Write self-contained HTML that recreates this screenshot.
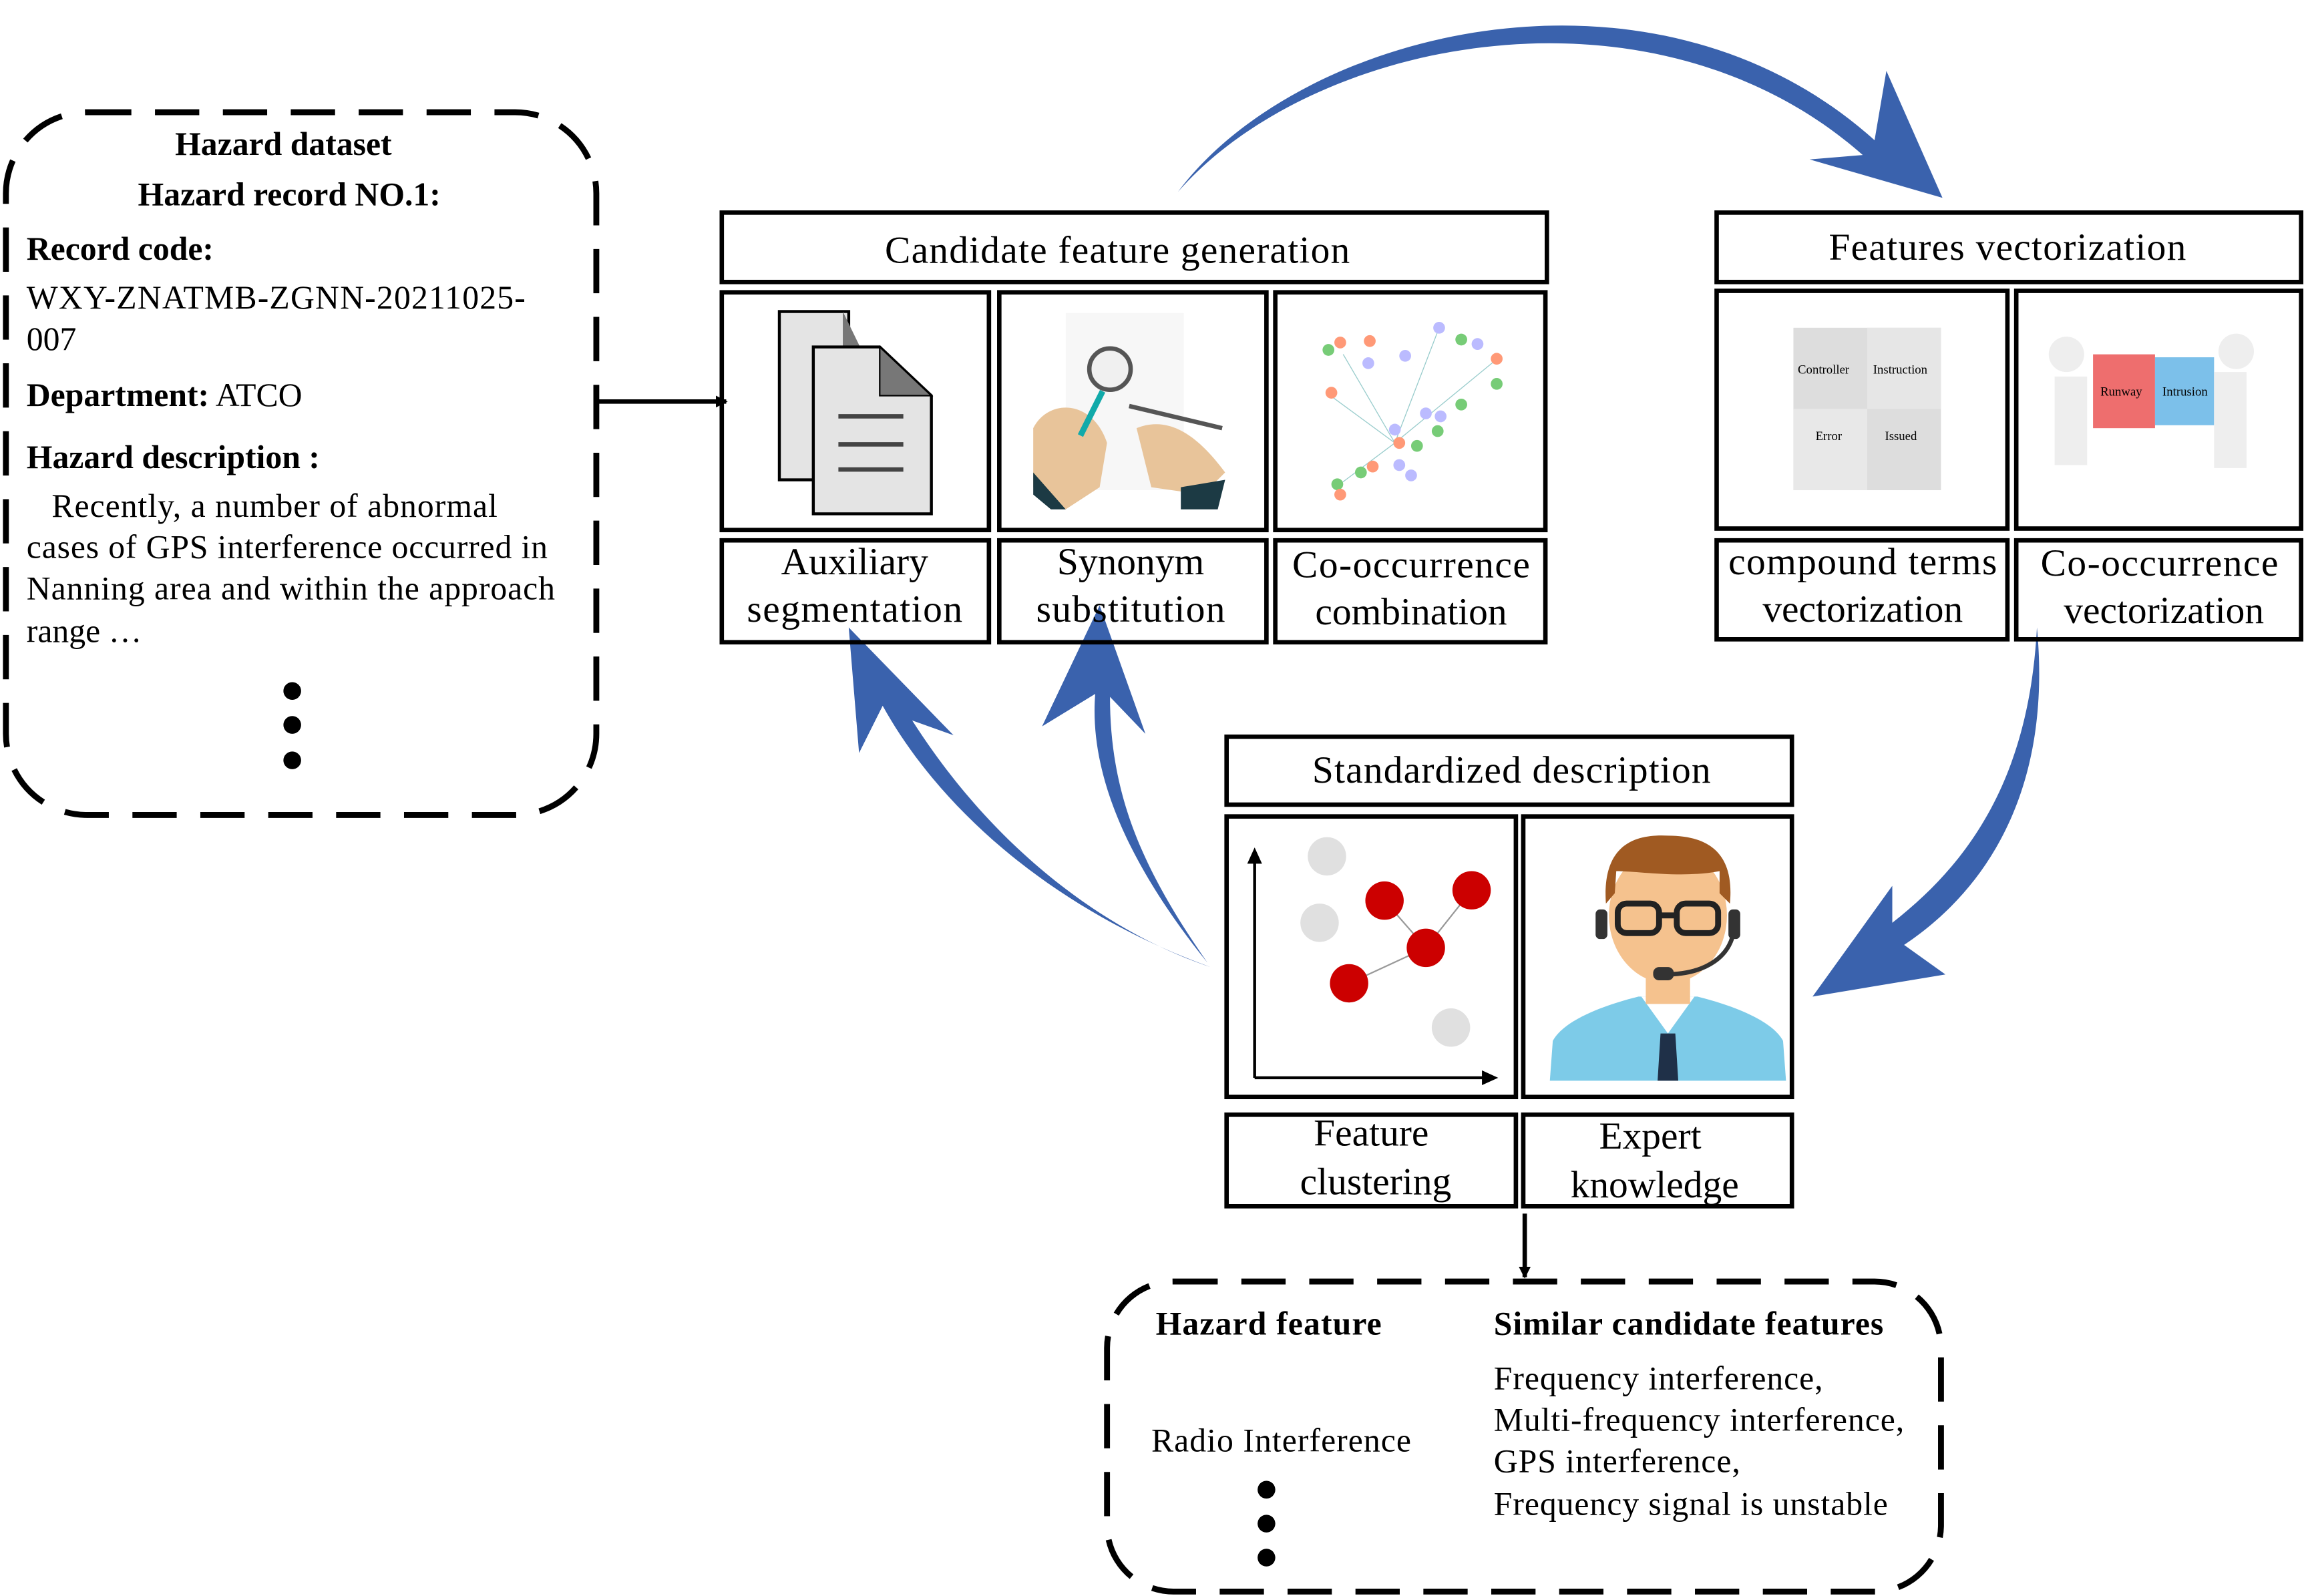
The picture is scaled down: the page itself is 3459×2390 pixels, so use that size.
<!DOCTYPE html>
<html><head><meta charset="utf-8"><style>
html,body{margin:0;padding:0;background:#fff;}
svg{display:block;}
text{font-family:"Liberation Serif",serif;fill:#000;}
.b{font-weight:bold;}
</style></head><body>
<svg width="3459" height="2390" viewBox="0 0 1565 1081" preserveAspectRatio="none" xmlns="http://www.w3.org/2000/svg">
<defs>
<marker id="ah" markerWidth="8" markerHeight="8" refX="7" refY="4" orient="auto" markerUnits="userSpaceOnUse"><path d="M0,0 L8,4 L0,8 z" fill="#000"/></marker>
</defs>
<rect x="4" y="76" width="400" height="476" rx="55" fill="none" stroke="#000" stroke-width="4" stroke-dasharray="30,16"/>
<g font-size="22.5">
<text x="192" y="105" text-anchor="middle" class="b">Hazard dataset</text>
<text x="196" y="139" text-anchor="middle" class="b">Hazard record NO.1:</text>
<text x="18" y="176" class="b">Record code:</text>
<text x="18" y="209" textLength="338">WXY-ZNATMB-ZGNN-20211025-</text>
<text x="18" y="237">007</text>
<text x="18" y="275"><tspan class="b">Department:</tspan>  ATCO</text>
<text x="18" y="317" class="b">Hazard description :</text>
<text x="35" y="350" textLength="302">Recently, a number of abnormal</text>
<text x="18" y="378" textLength="353">cases of GPS interference occurred in</text>
<text x="18" y="406" textLength="358">Nanning area and within the approach</text>
<text x="18" y="435">range …</text>
</g>
<circle cx="198" cy="468" r="6"/><circle cx="198" cy="491" r="6"/><circle cx="198" cy="515" r="6"/>
<line x1="405" y1="272" x2="492" y2="272" stroke="#000" stroke-width="3" marker-end="url(#ah)"/>

<g fill="#3a62ad">
<path d="M798,130 C880,20 1120,-40 1270,95 L1278,48 L1316,134 L1226,108 L1262,105 C1120,-20 890,25 798,130 z"/>
<path d="M1380,425 C1390,530 1350,600 1290,640 L1318,660 L1228,675 L1282,600 L1282,625 C1340,580 1375,520 1380,425 z"/>
<path d="M820,655 C710,615 635,545 598,478 L582,510 L575,425 L646,498 L618,488 C680,585 760,635 820,655 z"/>
<path d="M818,652 C760,580 738,520 742,470 L706,492 L745,410 L776,497 L752,472 C752,540 775,590 818,652 z"/>
</g>

<g fill="none" stroke="#000" stroke-width="3">
<rect x="489" y="144" width="559" height="47"/>
<rect x="489" y="198" width="181" height="161"/>
<rect x="677" y="198" width="181" height="161"/>
<rect x="864" y="198" width="183" height="161"/>
<rect x="489" y="366" width="181" height="69"/>
<rect x="677" y="366" width="181" height="69"/>
<rect x="864" y="366" width="183" height="69"/>
<rect x="1163" y="144" width="396" height="47"/>
<rect x="1163" y="197" width="197" height="161"/>
<rect x="1366" y="197" width="193" height="161"/>
<rect x="1163" y="366" width="197" height="67"/>
<rect x="1366" y="366" width="193" height="67"/>
<rect x="831" y="499" width="383" height="46"/>
<rect x="831" y="553" width="196" height="190"/>
<rect x="1032" y="553" width="182" height="190"/>
<rect x="831" y="755" width="196" height="62"/>
<rect x="1032" y="755" width="182" height="62"/>
</g>
<g font-size="26" text-anchor="middle">
<text x="757" y="178" textLength="315">Candidate feature generation</text>
<text x="1360" y="176" textLength="242">Features vectorization</text>
<text x="1024" y="530" textLength="270">Standardized description</text>
<text x="579" y="389">Auxiliary</text><text x="579" y="421" textLength="146">segmentation</text>
<text x="766" y="389">Synonym</text><text x="766" y="421" textLength="128">substitution</text>
<text x="956" y="391" textLength="161">Co-occurrence</text><text x="956" y="423">combination</text>
<text x="1262" y="389" textLength="182">compound terms</text><text x="1262" y="421">vectorization</text>
<text x="1463" y="390" textLength="161">Co-occurrence</text><text x="1466" y="422">vectorization</text>
<text x="929" y="776">Feature</text><text x="932" y="809">clustering</text>
<text x="1118" y="778">Expert</text><text x="1121" y="811">knowledge</text>
</g>

<rect x="528" y="211" width="47" height="114" fill="#e4e4e4" stroke="#000" stroke-width="2"/>
<path d="M571,211 L590,250 L571,250 z" fill="#777"/>
<path d="M551,235 L596,235 L631,268 L631,348 L551,348 z" fill="#e4e4e4" stroke="#000" stroke-width="2"/>
<path d="M596,235 L631,268 L596,268 z" fill="#777" stroke="#000"/>
<g stroke="#444" stroke-width="3"><line x1="568" y1="282" x2="612" y2="282"/><line x1="568" y1="301" x2="612" y2="301"/><line x1="568" y1="318" x2="612" y2="318"/></g>
<rect x="722" y="212" width="80" height="120" fill="#f7f7f7"/>
<path d="M700,290 C710,270 740,270 750,300 L745,330 L722,345 L700,330 z" fill="#e8c49a"/>
<path d="M770,290 C795,280 815,300 830,320 L815,335 L780,330 z" fill="#e8c49a"/>
<path d="M700,320 L722,345 L712,345 L700,335 z" fill="#1c3a44"/>
<path d="M800,330 L830,325 L825,345 L800,345 z" fill="#1c3a44"/>
<circle cx="752" cy="250" r="14" fill="#f0f0f0" stroke="#555" stroke-width="3"/>
<line x1="747" y1="265" x2="732" y2="295" stroke="#1aa" stroke-width="4"/>
<line x1="765" y1="275" x2="828" y2="290" stroke="#555" stroke-width="3"/>
<g stroke="#9cc" stroke-width="0.6" fill="none"><path d="M975,222 L945,300 L905,330"/><path d="M1012,245 L945,300 L900,267"/><path d="M910,240 L945,300"/></g>
<g>
<circle cx="900" cy="237" r="4" fill="#7c7"/><circle cx="908" cy="232" r="4" fill="#f97"/><circle cx="928" cy="231" r="4" fill="#f97"/>
<circle cx="952" cy="241" r="4" fill="#bbf"/><circle cx="975" cy="222" r="4" fill="#bbf"/><circle cx="990" cy="230" r="4" fill="#7c7"/>
<circle cx="1001" cy="233" r="4" fill="#bbf"/><circle cx="1014" cy="243" r="4" fill="#f97"/><circle cx="1014" cy="260" r="4" fill="#7c7"/>
<circle cx="927" cy="246" r="4" fill="#bbf"/><circle cx="902" cy="266" r="4" fill="#f97"/><circle cx="966" cy="280" r="4" fill="#bbf"/>
<circle cx="976" cy="282" r="4" fill="#bbf"/><circle cx="990" cy="274" r="4" fill="#7c7"/><circle cx="945" cy="291" r="4" fill="#bbf"/>
<circle cx="948" cy="300" r="4" fill="#f97"/><circle cx="974" cy="292" r="4" fill="#7c7"/><circle cx="960" cy="302" r="4" fill="#7c7"/>
<circle cx="930" cy="316" r="4" fill="#f97"/><circle cx="922" cy="320" r="4" fill="#7c7"/><circle cx="948" cy="315" r="4" fill="#bbf"/>
<circle cx="956" cy="322" r="4" fill="#bbf"/><circle cx="906" cy="328" r="4" fill="#7c7"/><circle cx="908" cy="335" r="4" fill="#f97"/>
</g>
<rect x="1215" y="222" width="100" height="110" fill="#ddd"/>
<rect x="1265" y="222" width="50" height="55" fill="#e6e6e6"/><rect x="1215" y="277" width="50" height="55" fill="#e8e8e8"/>
<g font-size="8.5"><text x="1218" y="253">Controller</text><text x="1269" y="253">Instruction</text><text x="1230" y="298">Error</text><text x="1277" y="298">Issued</text></g>
<rect x="1418" y="240" width="42" height="50" fill="#ee6e6e"/><rect x="1460" y="242" width="40" height="46" fill="#7cc0ea"/>
<circle cx="1400" cy="240" r="12" fill="#eee"/><circle cx="1515" cy="238" r="12" fill="#eee"/>
<rect x="1392" y="255" width="22" height="60" fill="#eee"/><rect x="1500" y="252" width="22" height="65" fill="#eee"/>
<g font-size="8.5"><text x="1423" y="268">Runway</text><text x="1465" y="268">Intrusion</text></g>
<g stroke="#000" stroke-width="2"><line x1="850" y1="730" x2="850" y2="580"/><line x1="850" y1="730" x2="1010" y2="730"/></g>
<path d="M845,585 L850,574 L855,585 z"/><path d="M1004,725 L1015,730 L1004,735 z"/>
<g stroke="#999" stroke-width="1"><line x1="938" y1="610" x2="966" y2="642"/><line x1="997" y1="603" x2="966" y2="642"/><line x1="966" y1="642" x2="914" y2="666"/></g>
<circle cx="899" cy="580" r="13" fill="#e0e0e0"/><circle cx="894" cy="625" r="13" fill="#e0e0e0"/><circle cx="983" cy="696" r="13" fill="#e0e0e0"/>
<circle cx="938" cy="610" r="13" fill="#c00"/><circle cx="997" cy="603" r="13" fill="#c00"/><circle cx="966" cy="642" r="13" fill="#c00"/><circle cx="914" cy="666" r="13" fill="#c00"/>
<path d="M1050,732 L1052,705 C1060,690 1090,680 1110,675 L1150,675 C1170,680 1200,690 1208,705 L1210,732 z" fill="#7dcbe8"/>
<path d="M1112,675 L1130,700 L1148,675 z" fill="#fff"/>
<path d="M1125,700 L1135,700 L1137,732 L1123,732 z" fill="#1f3048"/>
<rect x="1115" y="650" width="30" height="30" fill="#f5c28e"/>
<ellipse cx="1130" cy="620" rx="40" ry="46" fill="#f5c28e"/>
<path d="M1088,612 C1085,570 1110,565 1130,566 C1160,566 1175,580 1172,612 L1165,605 L1165,590 C1140,595 1110,590 1095,590 L1094,605 z" fill="#a05a22"/>
<g fill="none" stroke="#222" stroke-width="4"><rect x="1096" y="612" width="28" height="20" rx="6"/><rect x="1136" y="612" width="28" height="20" rx="6"/><line x1="1124" y1="620" x2="1136" y2="620"/></g>
<path d="M1175,625 C1175,648 1155,660 1128,660" fill="none" stroke="#333" stroke-width="3"/>
<rect x="1120" y="655" width="14" height="9" rx="4" fill="#333"/>
<rect x="1081" y="616" width="8" height="20" rx="3" fill="#333"/><rect x="1171" y="616" width="8" height="20" rx="3" fill="#333"/>

<line x1="1033" y1="822" x2="1033" y2="865" stroke="#000" stroke-width="3" marker-end="url(#ah)"/>
<rect x="750" y="868" width="565" height="210" rx="45" fill="none" stroke="#000" stroke-width="4" stroke-dasharray="30,16"/>
<g font-size="22.5">
<text x="783" y="904" class="b" textLength="153">Hazard feature</text>
<text x="1012" y="904" class="b" textLength="264">Similar candidate features</text>
<text x="780" y="983" textLength="176">Radio Interference</text>
<text x="1012" y="941" textLength="223">Frequency interference,</text>
<text x="1012" y="969" textLength="278">Multi-frequency interference,</text>
<text x="1012" y="997" textLength="167">GPS interference,</text>
<text x="1012" y="1026" textLength="267">Frequency signal is unstable</text>
</g>
<circle cx="858" cy="1009" r="6"/><circle cx="858" cy="1032" r="6"/><circle cx="858" cy="1055" r="6"/>
</svg>
</body></html>
